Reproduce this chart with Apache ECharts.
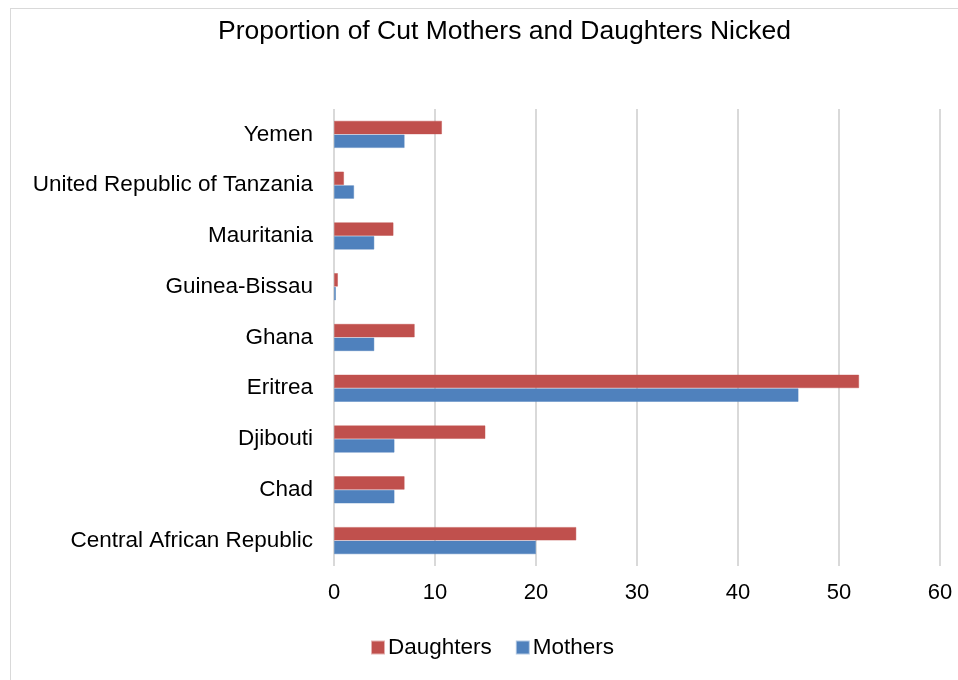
<!DOCTYPE html>
<html><head><meta charset="utf-8">
<script src="https://cdn.jsdelivr.net/npm/echarts@6/dist/echarts.min.js"></script>
<style>
html,body{margin:0;padding:0;background:#fff;}
#frame{position:absolute;left:10px;top:8px;width:960px;height:690px;border:1px solid #d9d9d9;box-sizing:border-box;}
#c{position:absolute;left:0;top:0;width:958px;height:680px;}
</style></head>
<body>
<div id="frame"></div>
<div id="c"></div>
<script>
const categories = ["Central African Republic","Chad","Djibouti","Eritrea","Ghana","Guinea-Bissau","Mauritania","United Republic of Tanzania","Yemen"];
const daughters = [24, 7, 15, 52, 8, 0.4, 5.9, 1.0, 10.7];
const mothers = [20, 6, 6, 46, 4, 0.2, 4.0, 2.0, 7.0];
const xTicks = [0, 10, 20, 30, 40, 50, 60];

const FONT = '"Liberation Sans", sans-serif';
const chart = echarts.init(document.getElementById('c'), null, {renderer: 'canvas'});
chart.setOption({
  animation: false,
  title: {
    text: 'Proportion of Cut Mothers and Daughters Nicked',
    left: 213, top: 13,
    textStyle: {fontFamily: FONT, fontSize: 26.5, fontWeight: 'normal', color: '#000'}
  },
  legend: {
    data: ['Daughters', 'Mothers'],
    bottom: 16, left: 366,
    itemWidth: 12, itemHeight: 12, itemGap: 24,
    icon: 'rect',
    textStyle: {fontFamily: FONT, fontSize: 22.5, color: '#000', padding: [0, 0, 0, -1]}
  },
  grid: {left: 334, right: 18, top: 109, bottom: 114},
  xAxis: {
    type: 'value', min: xTicks[0], max: xTicks[xTicks.length - 1], interval: 10,
    axisLine: {show: false}, axisTick: {show: false},
    axisLabel: {fontFamily: FONT, fontSize: 22, color: '#000', margin: 16},
    splitLine: {show: true, lineStyle: {color: '#d9d9d9', width: 2}}
  },
  yAxis: {
    type: 'category', data: categories,
    axisLine: {show: false}, axisTick: {show: false},
    axisLabel: {fontFamily: FONT, fontSize: 22.5, color: '#000', margin: 21}
  },
  series: [
    {name: 'Daughters', type: 'bar', data: daughters, barGap: '0%', barCategoryGap: '46%',
     itemStyle: {color: '#C0504D', borderColor: 'rgba(192,80,77,0.45)', borderWidth: 1}},
    {name: 'Mothers', type: 'bar', data: mothers, barGap: '0%', barCategoryGap: '46%',
     itemStyle: {color: '#4F81BD', borderColor: 'rgba(79,129,189,0.45)', borderWidth: 1}}
  ]
});
</script>
</body></html>
